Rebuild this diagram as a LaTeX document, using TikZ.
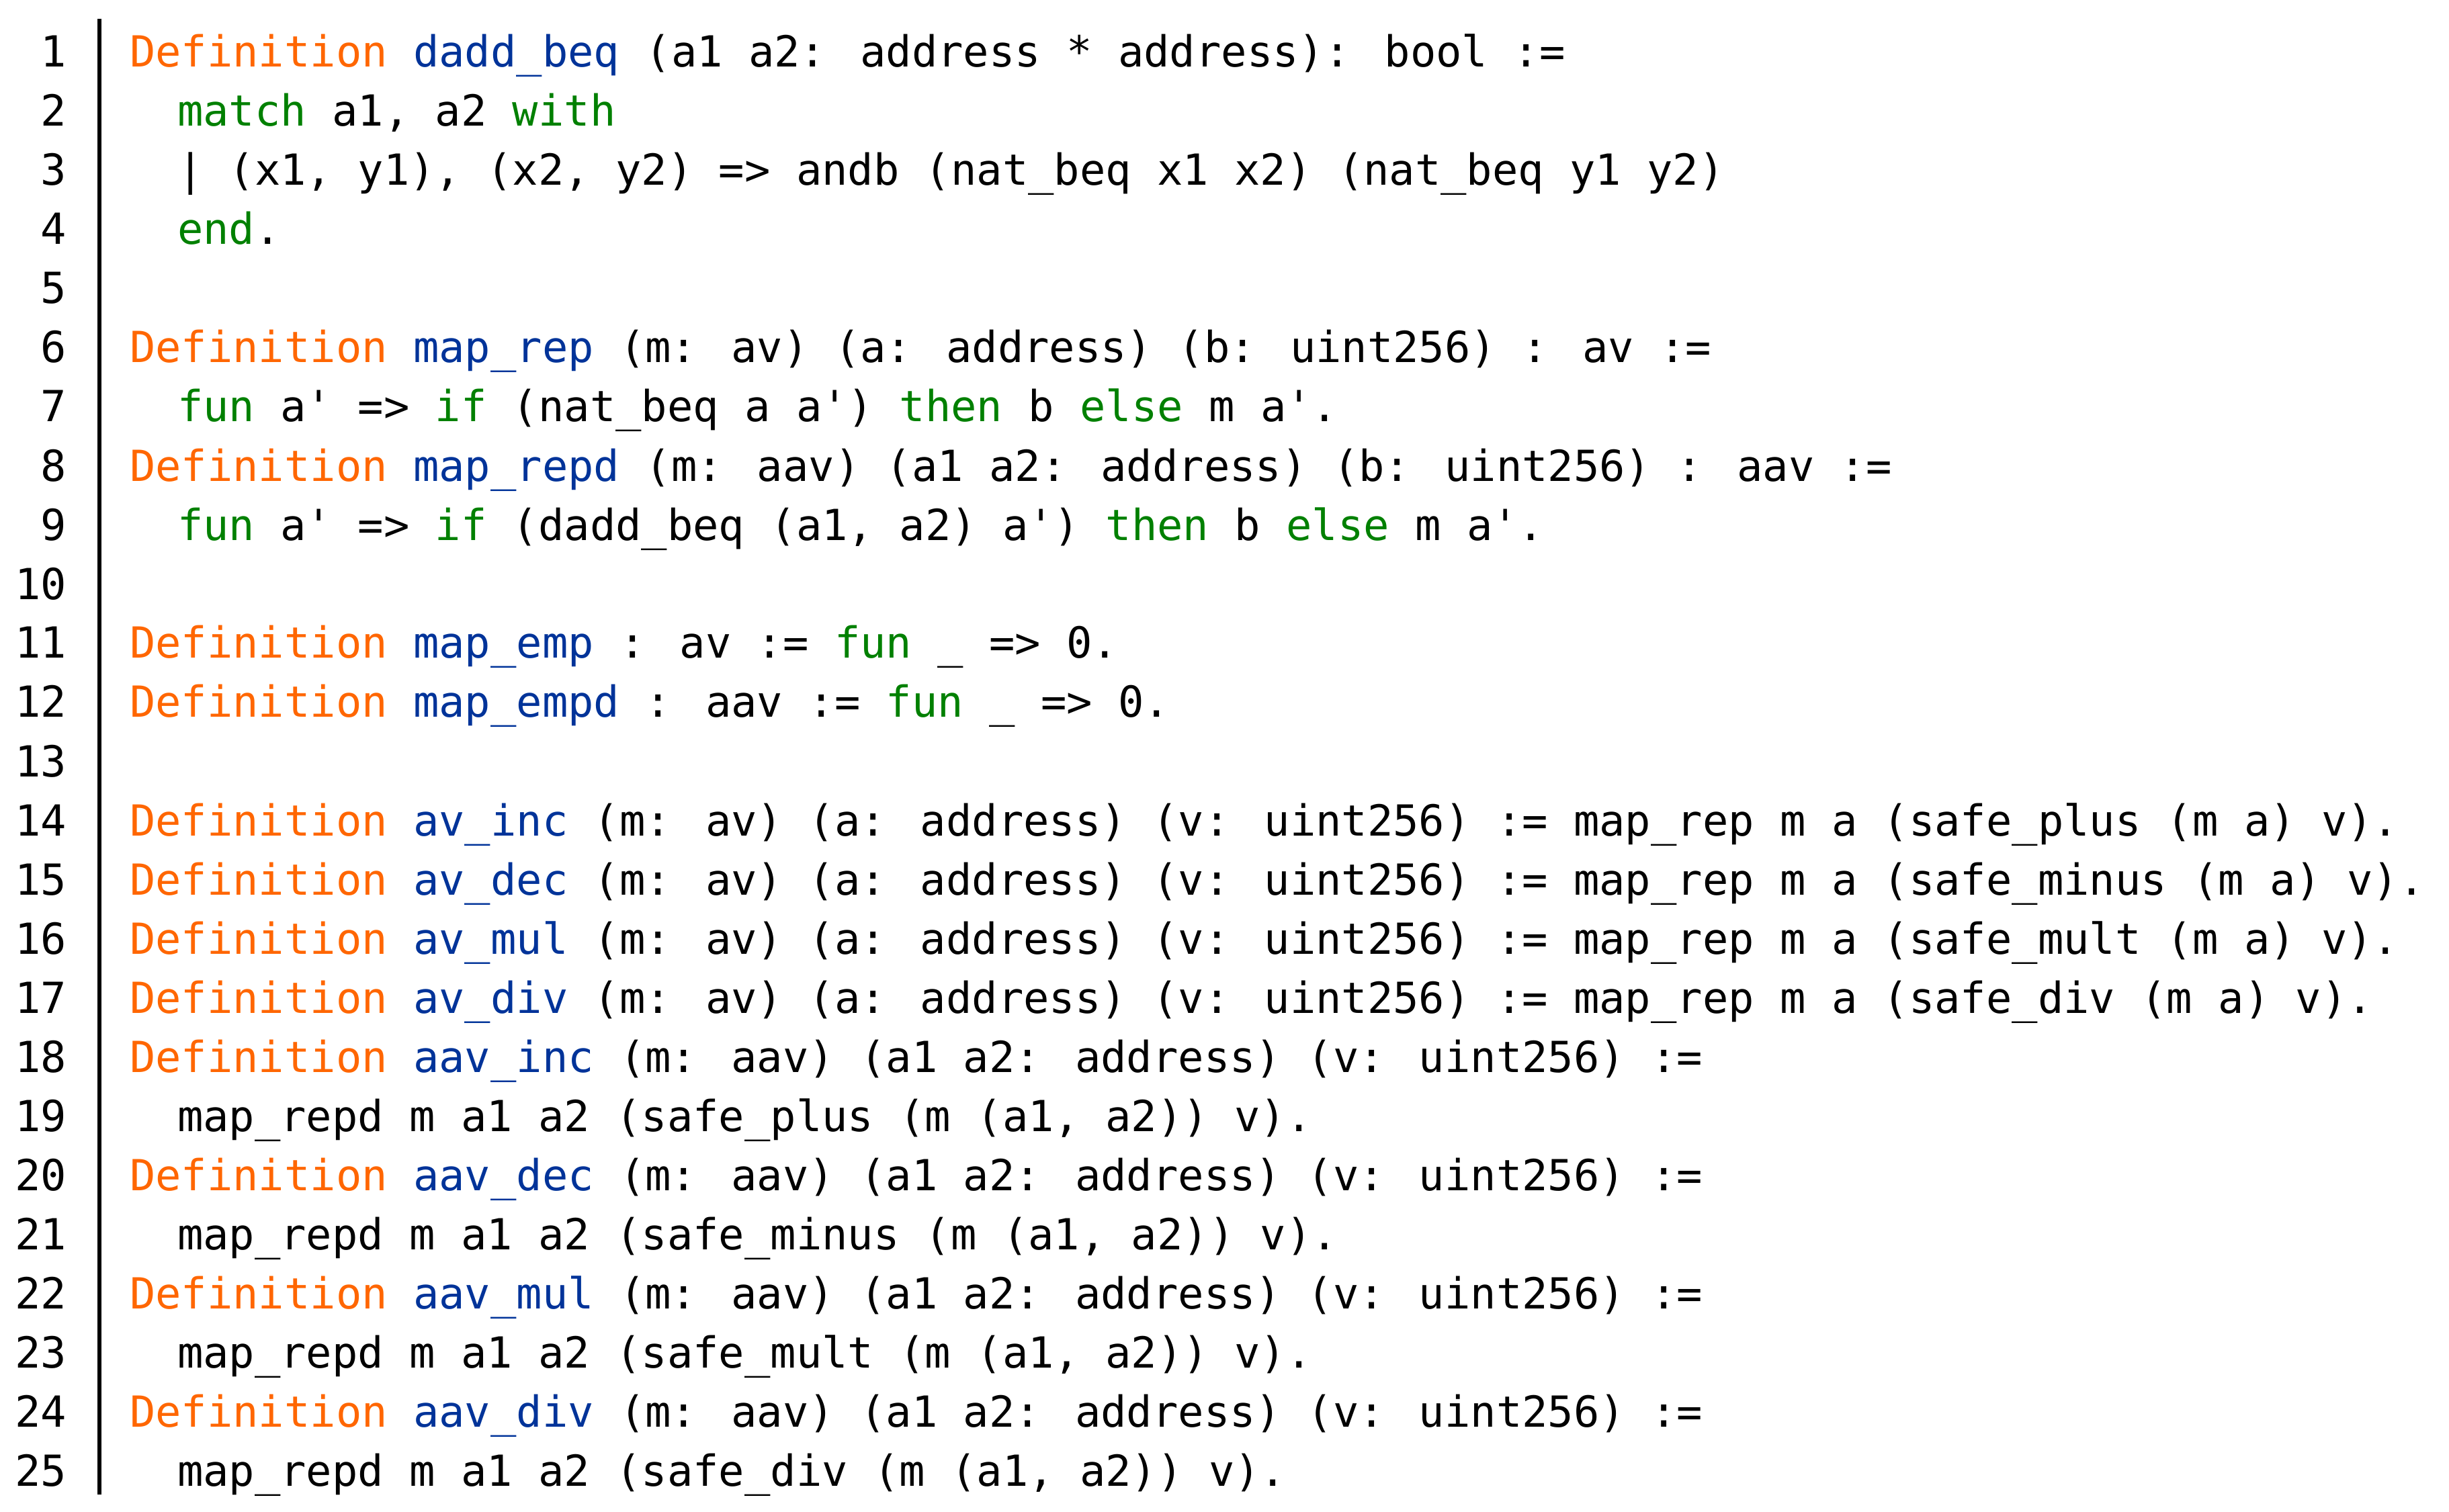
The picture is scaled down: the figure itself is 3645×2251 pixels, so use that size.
\documentclass[tikz,border=0pt]{standalone}
\usepackage{fontspec}
\newfontfamily\codefont{DejaVu Sans Mono}
\definecolor{cdef}{HTML}{FF6600}
\definecolor{cname}{HTML}{003399}
\definecolor{ckw}{HTML}{008000}
\newcommand\Df{\textcolor{cdef}{Definition}}
\newcommand\Nm[1]{\textcolor{cname}{#1}}
\newcommand\Kw[1]{\textcolor{ckw}{#1}}
\tikzset{codeline/.style={anchor=base west,inner sep=0pt,font=\codefont\fontsize{12.75}{15}\selectfont},
lnum/.style={anchor=base east,inner sep=0pt,font=\codefont\fontsize{12.75}{15}\selectfont}}
\begin{document}
\begin{tikzpicture}[x=0.2pt,y=-0.2pt]
\useasboundingbox (0,0) rectangle (3645,2251);
\def\cw{35.5}
\foreach \n in {1,...,25} {\node[lnum] (n\n) at (100,{100+88*(\n-1)}) {\n};}
\draw[line width=1.2pt] (148,28) -- (148,2225);
\newcommand\Ln[3]{\node[codeline] (l#1) at ({192+#2*\cw},{100+88*(#1-1)}) {#3};}
\Ln{1}{0}{\Df\ \Nm{dadd\_beq} (a1 a2: address * address): bool :=}
\Ln{2}{2}{\Kw{match} a1, a2 \Kw{with}}
\Ln{3}{2}{| (x1, y1), (x2, y2) => andb (nat\_beq x1 x2) (nat\_beq y1 y2)}
\Ln{4}{2}{\Kw{end}.}
\Ln{6}{0}{\Df\ \Nm{map\_rep} (m: av) (a: address) (b: uint256) : av :=}
\Ln{7}{2}{\Kw{fun} a' => \Kw{if} (nat\_beq a a') \Kw{then} b \Kw{else} m a'.}
\Ln{8}{0}{\Df\ \Nm{map\_repd} (m: aav) (a1 a2: address) (b: uint256) : aav :=}
\Ln{9}{2}{\Kw{fun} a' => \Kw{if} (dadd\_beq (a1, a2) a') \Kw{then} b \Kw{else} m a'.}
\Ln{11}{0}{\Df\ \Nm{map\_emp} : av := \Kw{fun} \_ => 0.}
\Ln{12}{0}{\Df\ \Nm{map\_empd} : aav := \Kw{fun} \_ => 0.}
\Ln{14}{0}{\Df\ \Nm{av\_inc} (m: av) (a: address) (v: uint256) := map\_rep m a (safe\_plus (m a) v).}
\Ln{15}{0}{\Df\ \Nm{av\_dec} (m: av) (a: address) (v: uint256) := map\_rep m a (safe\_minus (m a) v).}
\Ln{16}{0}{\Df\ \Nm{av\_mul} (m: av) (a: address) (v: uint256) := map\_rep m a (safe\_mult (m a) v).}
\Ln{17}{0}{\Df\ \Nm{av\_div} (m: av) (a: address) (v: uint256) := map\_rep m a (safe\_div (m a) v).}
\Ln{18}{0}{\Df\ \Nm{aav\_inc} (m: aav) (a1 a2: address) (v: uint256) :=}
\Ln{19}{2}{map\_repd m a1 a2 (safe\_plus (m (a1, a2)) v).}
\Ln{20}{0}{\Df\ \Nm{aav\_dec} (m: aav) (a1 a2: address) (v: uint256) :=}
\Ln{21}{2}{map\_repd m a1 a2 (safe\_minus (m (a1, a2)) v).}
\Ln{22}{0}{\Df\ \Nm{aav\_mul} (m: aav) (a1 a2: address) (v: uint256) :=}
\Ln{23}{2}{map\_repd m a1 a2 (safe\_mult (m (a1, a2)) v).}
\Ln{24}{0}{\Df\ \Nm{aav\_div} (m: aav) (a1 a2: address) (v: uint256) :=}
\Ln{25}{2}{map\_repd m a1 a2 (safe\_div (m (a1, a2)) v).}
\end{tikzpicture}
\end{document}
